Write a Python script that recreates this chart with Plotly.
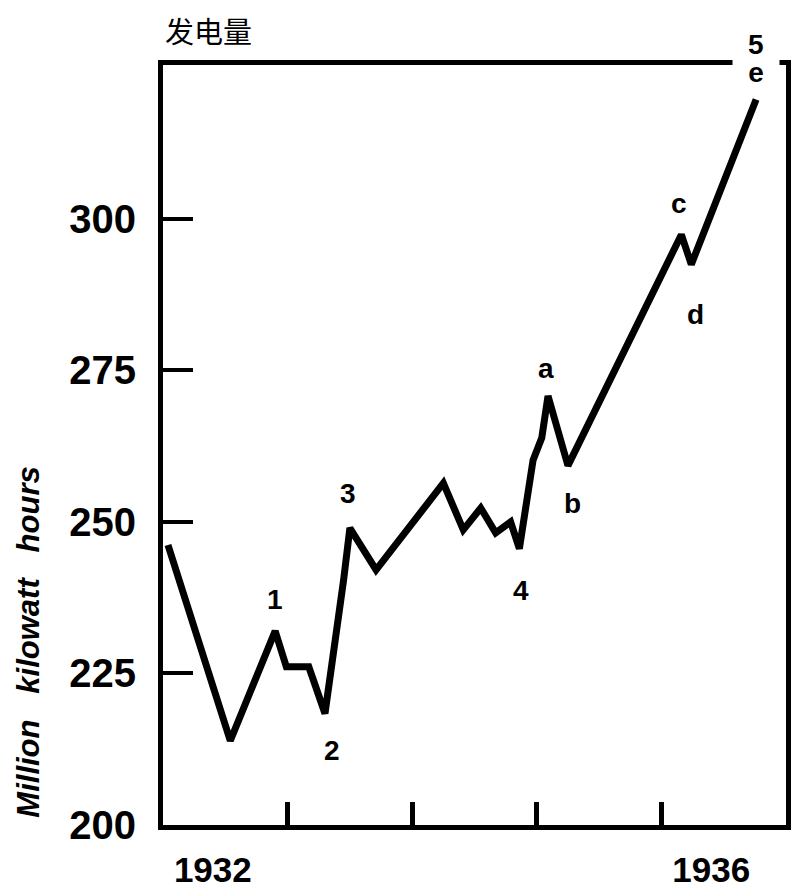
import plotly.graph_objects as go

# electricity output, monthly-ish readings
years = [1932.04, 1932.54, 1932.90, 1932.99, 1933.17, 1933.30, 1933.45, 1933.50,
         1933.71, 1934.25, 1934.41, 1934.55, 1934.67, 1934.79, 1934.86, 1934.97,
         1935.04, 1935.09, 1935.25, 1936.16, 1936.24, 1936.76]
output = [246.2, 213.9, 232.0, 226.1, 226.1, 218.4, 240.5, 249.0,
          242.1, 256.4, 248.7, 252.3, 248.2, 250.0, 245.6, 260.2,
          263.9, 270.8, 259.3, 297.4, 292.5, 319.7]

# wave labels and the index of the point each belongs to
wave_labels = ["1", "2", "3", "4", "a", "b", "c", "d", "e", "5"]
wave_points = [2, 5, 7, 14, 17, 18, 19, 20, 21, 21]

y_ticks = [200, 225, 250, 275, 300]
year_bounds = [1933, 1934, 1935, 1936]
year_labels = ["1932", "1936"]
year_label_pos = [1932.4, 1936.4]

title_text = "发电量"
y_title = "Million   kilowatt   hours"

# label offsets in pixels (x, y)
label_shift = {"1": (0, 32), "2": (7, -37), "3": (-2, 35), "4": (2, -42),
               "a": (-2, 27), "b": (5, -38), "c": (-2, 31), "d": (4, -50),
               "e": (0, 27), "5": (0, 55)}

y_font = dict(family="Liberation Sans", size=40, color="black", weight="bold")
x_font = dict(family="Liberation Sans", size=35, color="black", weight="bold")
lab_font = dict(family="Liberation Sans", size=28, color="black", weight="bold")

fig = go.Figure()
fig.add_trace(go.Scatter(x=years, y=output, mode="lines",
                         line=dict(color="black", width=7), showlegend=False))

for lab, idx in zip(wave_labels, wave_points):
    dx, dy = label_shift[lab]
    extra = {}
    if lab == "e":
        # white box breaks the frame line like in the original
        extra = dict(bgcolor="white", width=44)
    fig.add_annotation(x=years[idx], y=output[idx], text=lab, showarrow=False,
                       xshift=dx, yshift=dy, font=lab_font, **extra)

fig.add_annotation(xref="paper", yref="paper", x=0, y=1.046, xanchor="left",
                   yanchor="middle", text=title_text, showarrow=False,
                   font=dict(family="Noto Sans CJK SC", size=29, color="black"))
fig.add_annotation(xref="paper", yref="paper", x=-0.215, y=0.24, textangle=-90,
                   xanchor="center", yanchor="middle",
                   text=y_title, showarrow=False,
                   font=dict(family="Liberation Sans", size=31, color="black",
                             weight="bold", style="italic"))

fig.update_xaxes(range=[1932, 1937], tickmode="array", tickvals=year_label_pos,
                 ticktext=year_labels, ticks="", showgrid=False, zeroline=False,
                 showline=True, linecolor="black", linewidth=5, mirror=True,
                 tickfont=x_font, ticklabelstandoff=10, automargin=False,
                 minor=dict(tickmode="array", tickvals=year_bounds, ticks="inside",
                            ticklen=23, tickwidth=5, tickcolor="black", showgrid=False))
fig.update_yaxes(range=[200, 325.4], tickmode="array", tickvals=y_ticks,
                 ticks="inside", ticklen=30, tickwidth=4, tickcolor="black",
                 showgrid=False, zeroline=False, showline=True, linecolor="black",
                 linewidth=5, mirror=True, tickfont=y_font, ticklabelstandoff=14,
                 automargin=False)
fig.update_layout(width=792, height=888, plot_bgcolor="white", paper_bgcolor="white",
                  margin=dict(l=155, r=14, t=57, b=71))

fig.write_html("out.html")
